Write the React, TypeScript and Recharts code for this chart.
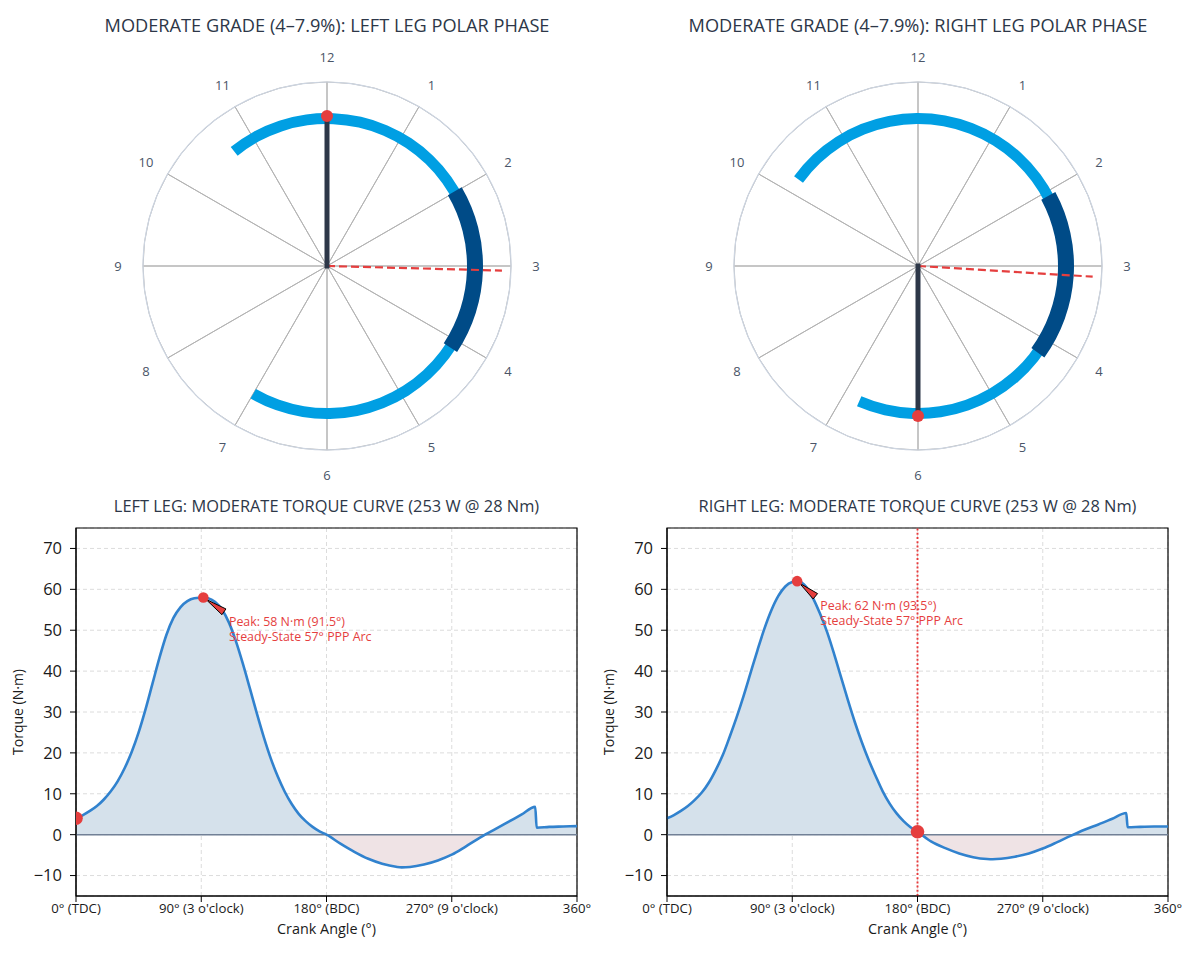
import React from 'react';
import {
  PieChart,
  Pie,
  ComposedChart,
  Area,
  Line,
  XAxis,
  YAxis,
  CartesianGrid,
  ReferenceLine,
  ReferenceDot,
  ReferenceArea,
} from 'recharts';

const FONT = '"Open Sans", "Noto Sans", sans-serif';
const RAD = Math.PI / 180;

// dial labels, clockwise from the top
const CLOCK_HOURS = ['12', '1', '2', '3', '4', '5', '6', '7', '8', '9', '10', '11'];

// polar phase, degrees clockwise from TDC
const LEFT_SWEEP = [-39, 210];
const LEFT_PPP = [59.7, 123.5];
const LEFT_CRANK = 0;
const LEFT_PEAK_ANGLE = 91.5;
const LEFT_PEAK_TORQUE = 58;

const RIGHT_SWEEP = [-54.1, 203.5];
const RIGHT_PPP = [61.7, 125.9];
const RIGHT_CRANK = 180;
const RIGHT_PEAK_ANGLE = 93.5;
const RIGHT_PEAK_TORQUE = 62;

// torque curves (crank angle in degrees, torque in N·m)
const LEFT_ANGLE = [
  0, 5, 10, 15, 20, 25, 30, 35, 40, 45, 50, 55, 60, 65, 70, 75, 80, 85, 91.5, 95, 100, 105, 110,
  115, 120, 125, 130, 135, 140, 145, 150, 155, 160, 165, 170, 175, 180, 190, 200, 210, 220, 230,
  234, 240, 250, 260, 270, 280, 290, 300, 310, 320, 330, 331, 340, 350, 360,
];
const LEFT_TORQUE = [
  4.0, 4.8, 5.8, 7.0, 8.6, 10.6, 13.1, 16.3, 20.2, 25.0, 30.7, 37.0, 43.3, 48.9, 53.0, 55.6, 57.1,
  57.8, 58.0, 57.8, 56.9, 55.0, 51.8, 47.2, 41.7, 35.7, 29.6, 23.8, 18.6, 14.2, 10.5, 7.5, 5.1, 3.3,
  1.9, 0.8, 0.0, -2.2, -4.2, -5.9, -7.1, -7.85, -8.0, -7.9, -7.3, -6.3, -4.9, -2.9, -0.8, 1.1, 3.0,
  4.9, 6.8, 1.7, 1.9, 2.0, 2.1,
];

const RIGHT_ANGLE = [
  0, 5, 10, 15, 20, 25, 30, 35, 40, 45, 50, 55, 60, 65, 70, 75, 80, 85, 90, 93.5, 97, 100, 105, 110,
  115, 120, 125, 130, 135, 140, 145, 150, 155, 160, 165, 170, 175, 180, 190, 200, 210, 220, 230, 234,
  240, 250, 260, 270, 280, 290, 300, 310, 320, 330, 331, 340, 350, 360,
];
const RIGHT_TORQUE = [
  4.0, 4.8, 5.8, 7.0, 8.5, 10.3, 12.7, 15.8, 19.4, 23.9, 28.7, 33.9, 39.5, 45.1, 50.4, 54.9, 58.4,
  60.7, 61.8, 62.0, 61.6, 60.6, 57.8, 54.0, 49.6, 44.3, 38.6, 32.9, 27.5, 22.6, 18.2, 14.3, 10.6,
  7.6, 5.2, 3.3, 1.8, 0.7, -1.7, -3.3, -4.6, -5.5, -5.95, -6.0, -5.9, -5.4, -4.6, -3.4, -1.9, -0.3,
  1.2, 2.5, 3.9, 5.3, 1.8, 1.9, 2.0, 2.0,
];

const X_TICKS = [0, 90, 180, 270, 360];
const X_TICK_LABELS = ['0° (TDC)', "90° (3 o'clock)", '180° (BDC)', "270° (9 o'clock)", '360°'];
const Y_TICKS = [-10, 0, 10, 20, 30, 40, 50, 60, 70];

const RED = '#e53e3e';
const TITLE_COLOR = '#2d3748';
const TEXT_COLOR = '#1a1a1a';

// clock angle (clockwise from 12) -> screen point
const clockPoint = (cx: number, cy: number, r: number, deg: number) => ({
  x: cx + r * Math.sin(deg * RAD),
  y: cy - r * Math.cos(deg * RAD),
});

interface PolarProps {
  title: string;
  left: number;
  cx: number;
  sweep: number[];
  ppp: number[];
  crank: number;
  peakAngle: number;
}

function PolarPanel({ title, left, cx, sweep, ppp, crank, peakAngle }: PolarProps) {
  const cy = 266;
  const R = 184;
  const single = [{ value: 1 }];
  const hourData = CLOCK_HOURS.map((h) => ({ name: h, value: 1 }));

  const renderHour = (p: any) => {
    const r = R + 25;
    const x = p.cx + r * Math.cos(-p.midAngle * RAD);
    const y = p.cy + r * Math.sin(-p.midAngle * RAD);
    return (
      <text x={x} y={y} textAnchor="middle" dominantBaseline="central" fontSize={13} fill="#4a5568">
        {p.name}
      </text>
    );
  };

  const renderNeedles = (p: any) => {
    if (p.index !== 0) return null;
    const pk = clockPoint(p.cx, p.cy, 175, peakAngle);
    const ck = clockPoint(p.cx, p.cy, 150, crank);
    return (
      <g>
        <line x1={p.cx} y1={p.cy} x2={pk.x} y2={pk.y} stroke={RED} strokeWidth={2.2} strokeDasharray="8 4" />
        <line x1={p.cx} y1={p.cy} x2={ck.x} y2={ck.y} stroke="#2d3748" strokeWidth={5} strokeLinecap="square" />
        <circle cx={ck.x} cy={ck.y} r={6} fill={RED} />
      </g>
    );
  };

  return (
    <div style={{ position: 'absolute', left, top: 0, width: 600, height: 490 }}>
      <div
        style={{
          position: 'absolute',
          left: cx - 300,
          top: 12,
          width: 600,
          textAlign: 'center',
          fontSize: 18.2,
          lineHeight: '26px',
          color: TITLE_COLOR,
        }}
      >
        {title}
      </div>
      <PieChart width={600} height={490} margin={{ top: 0, right: 0, bottom: 0, left: 0 }}>
        {/* spokes */}
        <Pie
          data={hourData}
          dataKey="value"
          cx={cx}
          cy={cy}
          innerRadius={0}
          outerRadius={R}
          startAngle={90}
          endAngle={-270}
          fill="transparent"
          stroke="#b3b3b3"
          strokeWidth={1}
          isAnimationActive={false}
        />
        {/* outer ring */}
        <Pie
          data={single}
          dataKey="value"
          cx={cx}
          cy={cy}
          innerRadius={R - 0.6}
          outerRadius={R + 0.6}
          startAngle={90}
          endAngle={-270}
          fill="#cdd5e1"
          stroke="none"
          isAnimationActive={false}
        />
        {/* hour labels */}
        <Pie
          data={hourData}
          dataKey="value"
          cx={cx}
          cy={cy}
          innerRadius={0}
          outerRadius={R}
          startAngle={105}
          endAngle={-255}
          fill="transparent"
          stroke="none"
          label={renderHour}
          labelLine={false}
          isAnimationActive={false}
        />
        {/* full power sweep */}
        <Pie
          data={single}
          dataKey="value"
          cx={cx}
          cy={cy}
          innerRadius={142}
          outerRadius={153}
          startAngle={90 - sweep[0]}
          endAngle={90 - sweep[1]}
          fill="#009fe3"
          stroke="none"
          isAnimationActive={false}
        />
        {/* peak power phase */}
        <Pie
          data={single}
          dataKey="value"
          cx={cx}
          cy={cy}
          innerRadius={140}
          outerRadius={156}
          startAngle={90 - ppp[0]}
          endAngle={90 - ppp[1]}
          fill="#004b87"
          stroke="none"
          isAnimationActive={false}
        />
        {/* crank + peak direction */}
        <Pie
          data={single}
          dataKey="value"
          cx={cx}
          cy={cy}
          innerRadius={0}
          outerRadius={1}
          startAngle={90}
          endAngle={-270}
          fill="transparent"
          stroke="none"
          label={renderNeedles}
          labelLine={false}
          isAnimationActive={false}
        />
      </PieChart>
    </div>
  );
}

function PeakArrow(props: any) {
  const { x1, y1, x2, y2, lines } = props;
  const dx = x2 - x1;
  const dy = y2 - y1;
  const len = Math.hypot(dx, dy) || 1;
  const ux = dx / len;
  const uy = dy / len;
  const nx = -uy;
  const ny = ux;
  const tip = { x: x1 + ux * 3, y: y1 + uy * 3 };
  const hw = 3.5;
  const pts = [
    [tip.x, tip.y],
    [x2 + nx * hw, y2 + ny * hw],
    [x2 - nx * hw, y2 - ny * hw],
  ]
    .map((p) => p.join(','))
    .join(' ');
  return (
    <g>
      <polygon points={pts} fill={RED} stroke="#000" strokeWidth={1} strokeLinejoin="round" />
      <text x={x2 + 5} y={y2 + 14} fontSize={12.4} fill={RED}>
        <tspan x={x2 + 5}>{lines[0]}</tspan>
        <tspan x={x2 + 5} dy={15}>
          {lines[1]}
        </tspan>
      </text>
    </g>
  );
}

interface TorqueProps {
  title: string;
  left: number;
  marginLeft: number;
  marginRight: number;
  angles: number[];
  torque: number[];
  crank: number;
  peakAngle: number;
  peakTorque: number;
  arrowTail: number[];
  showCrankLine: boolean;
}

function TorquePanel(p: TorqueProps) {
  const data = p.angles.map((a, i) => ({
    angle: a,
    torque: p.torque[i],
    pos: Math.max(p.torque[i], 0),
    neg: Math.min(p.torque[i], 0),
  }));
  const crankTorque = p.torque[p.angles.indexOf(p.crank)];
  const plotLeft = p.marginLeft + 66;
  const plotWidth = 600 - plotLeft - p.marginRight;
  const lines = [`Peak: ${p.peakTorque} N·m (${p.peakAngle}°)`, 'Steady-State 57° PPP Arc'];

  return (
    <div style={{ position: 'absolute', left: p.left, top: 490, width: 600, height: 470 }}>
      <div
        style={{
          position: 'absolute',
          left: plotLeft - 50,
          width: plotWidth + 100,
          top: 4,
          textAlign: 'center',
          fontSize: 16.4,
          lineHeight: '24px',
          color: TITLE_COLOR,
        }}
      >
        {p.title}
      </div>
      <ComposedChart
        width={600}
        height={470}
        data={data}
        margin={{ top: 38, right: p.marginRight, bottom: 34, left: p.marginLeft }}
      >
        <CartesianGrid stroke="#dcdcdc" strokeDasharray="4 3" />
        <XAxis
          dataKey="angle"
          type="number"
          domain={[0, 360]}
          ticks={X_TICKS}
          tickFormatter={(v: number) => X_TICK_LABELS[X_TICKS.indexOf(v)]}
          tick={{ fontSize: 13.2, fill: TEXT_COLOR }}
          tickSize={6}
          tickMargin={2}
          height={30}
          stroke="#000"
          interval={0}
          label={{ value: 'Crank Angle (°)', position: 'bottom', offset: -2, fontSize: 14.4, fill: TEXT_COLOR }}
        />
        <YAxis
          type="number"
          domain={[-15, 75]}
          ticks={Y_TICKS}
          tickFormatter={(v: number) => (v < 0 ? `\u2212${Math.abs(v)}` : `${v}`)}
          tick={{ fontSize: 16.5, fill: TEXT_COLOR }}
          tickSize={6}
          tickMargin={8}
          width={66}
          stroke="#000"
          interval={0}
          label={{
            value: 'Torque (N·m)',
            angle: -90,
            position: 'insideLeft',
            offset: 8,
            fontSize: 14,
            fill: TEXT_COLOR,
            style: { textAnchor: 'middle' },
          }}
        />
        <Area
          dataKey="pos"
          type="monotone"
          baseValue={0}
          fill="#d5e1eb"
          fillOpacity={1}
          stroke="none"
          isAnimationActive={false}
        />
        <Area
          dataKey="neg"
          type="monotone"
          baseValue={0}
          fill="#efe3e5"
          fillOpacity={1}
          stroke="none"
          isAnimationActive={false}
        />
        <ReferenceLine y={0} stroke="#718096" strokeWidth={1.5} />
        {p.showCrankLine && (
          <ReferenceLine x={p.crank} stroke="#e8393b" strokeWidth={1.9} strokeDasharray="2 2.2" />
        )}
        <Line
          dataKey="torque"
          type="monotone"
          stroke="#3182ce"
          strokeWidth={2.6}
          dot={false}
          isAnimationActive={false}
        />
        <ReferenceArea
          x1={0}
          x2={360}
          y1={-15}
          y2={75}
          fill="none"
          fillOpacity={0}
          stroke="#000"
          strokeWidth={1.2}
        />
        <ReferenceDot
          x={p.crank}
          y={crankTorque}
          r={6.8}
          fill={RED}
          stroke="none"
          ifOverflow="hidden"
        />
        <ReferenceDot x={p.peakAngle} y={p.peakTorque} r={5.3} fill={RED} stroke="none" />
        <ReferenceLine
          segment={[
            { x: p.peakAngle, y: p.peakTorque },
            { x: p.arrowTail[0], y: p.arrowTail[1] },
          ]}
          shape={(sp: any) => <PeakArrow {...sp} lines={lines} />}
        />
      </ComposedChart>
    </div>
  );
}

export default function App() {
  return (
    <div
      style={{
        position: 'relative',
        width: 1200,
        height: 960,
        margin: -8,
        background: '#fff',
        fontFamily: FONT,
        overflow: 'hidden',
      }}
    >
      <PolarPanel
        title="MODERATE GRADE (4–7.9%): LEFT LEG POLAR PHASE"
        left={0}
        cx={327}
        sweep={LEFT_SWEEP}
        ppp={LEFT_PPP}
        crank={LEFT_CRANK}
        peakAngle={LEFT_PEAK_ANGLE}
      />
      <PolarPanel
        title="MODERATE GRADE (4–7.9%): RIGHT LEG POLAR PHASE"
        left={600}
        cx={318}
        sweep={RIGHT_SWEEP}
        ppp={RIGHT_PPP}
        crank={RIGHT_CRANK}
        peakAngle={RIGHT_PEAK_ANGLE}
      />
      <TorquePanel
        title="LEFT LEG: MODERATE TORQUE CURVE (253 W @ 28 Nm)"
        left={0}
        marginLeft={10}
        marginRight={23}
        angles={LEFT_ANGLE}
        torque={LEFT_TORQUE}
        crank={LEFT_CRANK}
        peakAngle={LEFT_PEAK_ANGLE}
        peakTorque={LEFT_PEAK_TORQUE}
        arrowTail={[106.3, 54.5]}
        showCrankLine={false}
      />
      <TorquePanel
        title="RIGHT LEG: MODERATE TORQUE CURVE (253 W @ 28 Nm)"
        left={600}
        marginLeft={1}
        marginRight={32}
        angles={RIGHT_ANGLE}
        torque={RIGHT_TORQUE}
        crank={RIGHT_CRANK}
        peakAngle={RIGHT_PEAK_ANGLE}
        peakTorque={RIGHT_PEAK_TORQUE}
        arrowTail={[106.6, 58.3]}
        showCrankLine={true}
      />
    </div>
  );
}
